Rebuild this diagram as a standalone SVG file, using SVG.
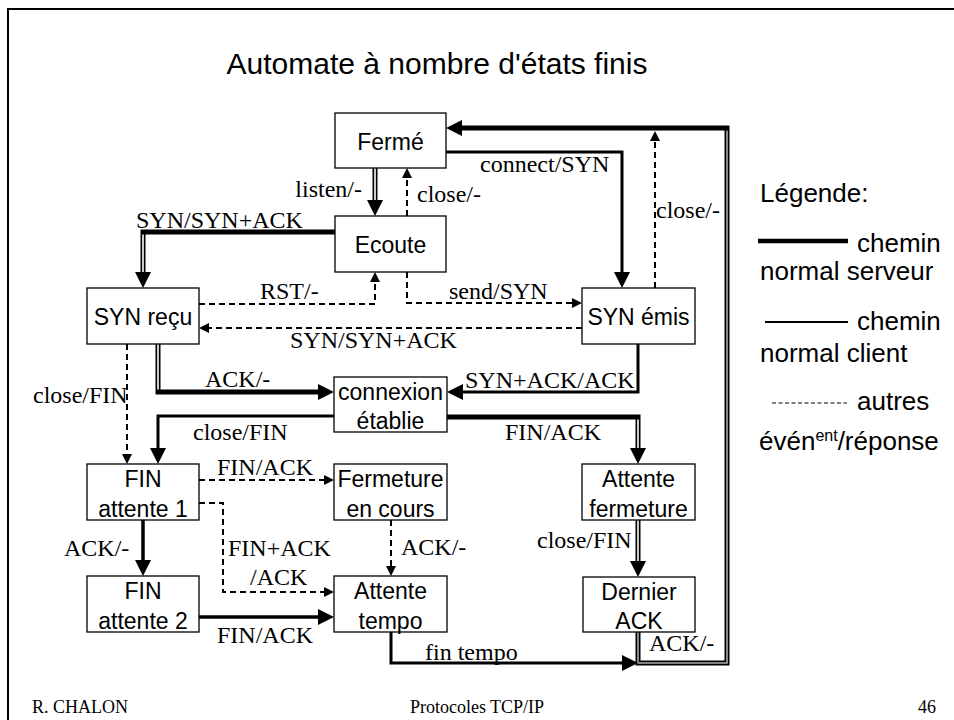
<svg xmlns="http://www.w3.org/2000/svg" width="954" height="720" viewBox="0 0 954 720">
<style>
.box{fill:#fff;stroke:#000;stroke-width:1.3}
.nt{font-family:"Liberation Sans",Arial,sans-serif;font-size:23px;fill:#000;text-anchor:middle}
.lb{font-family:"Liberation Serif","Times New Roman",serif;font-size:24px;fill:#000}
.lg{font-family:"Liberation Sans",Arial,sans-serif;font-size:26px;fill:#000}
.srv{fill:none;stroke:#000;stroke-width:5}
.in{fill:none;stroke:#fff;stroke-width:1.6}
.cli{fill:none;stroke:#000;stroke-width:3}
.dsh{fill:none;stroke:#000;stroke-width:2;stroke-dasharray:6 4}
</style>
<defs>
<marker id="big" viewBox="0 0 16 16" refX="8" refY="8" markerWidth="16" markerHeight="16" markerUnits="userSpaceOnUse" orient="auto"><path d="M0,0 L16,8 L0,16 Z" fill="#000"/></marker>
<marker id="sm" viewBox="0 0 10 10" refX="5" refY="5" markerWidth="10" markerHeight="10" markerUnits="userSpaceOnUse" orient="auto"><path d="M0,0 L10,5 L0,10 Z" fill="#000"/></marker>
</defs>
<rect x="8" y="9" width="970" height="780" fill="#fff" stroke="#000" stroke-width="2"/>
<text x="437" y="74" font-family="'Liberation Sans',Arial,sans-serif" font-size="30" text-anchor="middle">Automate à nombre d'états finis</text>

<g id="connectors">
<path class="srv" d="M375,168 V208" marker-end="url(#big)"/><path class="in" d="M375,168 V200"/>
<path class="srv" d="M335,232 H143 V280" marker-end="url(#big)"/><path class="in" d="M143,234.5 V272"/>
<path class="srv" d="M158,344 V392 H326" marker-end="url(#big)"/><path class="in" d="M158,344 V389.5"/>
<path class="srv" d="M447,417 H638 V456" marker-end="url(#big)"/><path class="in" d="M638,419.5 V448"/>
<path class="srv" d="M638,520 V569" marker-end="url(#big)"/><path class="in" d="M638,520 V561"/>
<path class="srv" d="M638,632 V663 H727 V128 H454" marker-end="url(#big)"/><path class="in" style="stroke:#aaa" d="M638,632 V663 H727 V130.5"/>
<path class="cli" d="M446,152 H622 V280" marker-end="url(#big)"/>
<path class="cli" d="M638,344 V392 H455" marker-end="url(#big)"/>
<path class="cli" d="M334,416 H158 V456" marker-end="url(#big)"/>
<path class="cli" style="stroke-width:3.5" d="M143,520 V568" marker-end="url(#big)"/>
<path class="cli" style="stroke-width:3.5" d="M199,617 H326" marker-end="url(#big)"/>
<path class="cli" d="M391,632 V663 H630" marker-end="url(#big)"/>
<path class="dsh" d="M407,216 V173" marker-end="url(#sm)"/>
<path class="dsh" d="M655,288 V136" marker-end="url(#sm)"/>
<path class="dsh" d="M199,304 H375 V277" marker-end="url(#sm)"/>
<path class="dsh" d="M407,272 V303 H577" marker-end="url(#sm)"/>
<path class="dsh" d="M582,328 H204" marker-end="url(#sm)"/>
<path class="dsh" d="M127,344 V459" marker-end="url(#sm)"/>
<path class="dsh" d="M199,480 H329" marker-end="url(#sm)"/>
<path class="dsh" d="M199,503 H223 V592 H329" marker-end="url(#sm)"/>
<path class="dsh" d="M391,520 V571" marker-end="url(#sm)"/>
</g>

<g id="labels">
<text class="lb" x="362" y="197" text-anchor="end">listen/-</text>
<text class="lb" x="417" y="202">close/-</text>
<text class="lb" x="480" y="172">connect/SYN</text>
<text class="lb" x="656" y="218">close/-</text>
<text class="lb" x="136" y="228">SYN/SYN+ACK</text>
<text class="lb" x="260" y="299">RST/-</text>
<text class="lb" x="449" y="299">send/SYN</text>
<text class="lb" x="290" y="348">SYN/SYN+ACK</text>
<text class="lb" x="205" y="387">ACK/-</text>
<text class="lb" x="33" y="403">close/FIN</text>
<text class="lb" x="193" y="440">close/FIN</text>
<text class="lb" x="465" y="388">SYN+ACK/ACK</text>
<text class="lb" x="505" y="440">FIN/ACK</text>
<text class="lb" x="217" y="475">FIN/ACK</text>
<text class="lb" x="64" y="556">ACK/-</text>
<text class="lb" x="228" y="556">FIN+ACK</text>
<text class="lb" x="250" y="585">/ACK</text>
<text class="lb" x="217" y="643">FIN/ACK</text>
<text class="lb" x="401" y="555">ACK/-</text>
<text class="lb" x="537" y="548">close/FIN</text>
<text class="lb" x="425" y="660">fin tempo</text>
<text class="lb" x="649" y="651">ACK/-</text>
</g>

<g id="ferme"><rect class="box" x="335" y="113" width="111" height="55"/><text class="nt" x="390.5" y="150">Fermé</text></g>
<g id="ecoute"><rect class="box" x="335" y="216" width="111" height="56"/><text class="nt" x="390.5" y="253">Ecoute</text></g>
<g id="synrecu"><rect class="box" x="87" y="288" width="112" height="56"/><text class="nt" x="143" y="325">SYN reçu</text></g>
<g id="synemis"><rect class="box" x="582" y="288" width="113" height="56"/><text class="nt" x="638.5" y="325">SYN émis</text></g>
<g id="connexion"><rect class="box" x="334" y="377" width="113" height="55"/><text class="nt" x="390.5" y="400">connexion</text><text class="nt" x="390.5" y="429">établie</text></g>
<g id="fin1"><rect class="box" x="87" y="464" width="112" height="56"/><text class="nt" x="143" y="487">FIN</text><text class="nt" x="143" y="517">attente 1</text></g>
<g id="fin2"><rect class="box" x="87" y="576" width="112" height="56"/><text class="nt" x="143" y="599">FIN</text><text class="nt" x="143" y="629">attente 2</text></g>
<g id="fermeture"><rect class="box" x="334" y="464" width="113" height="56"/><text class="nt" x="390.5" y="487">Fermeture</text><text class="nt" x="390.5" y="517">en cours</text></g>
<g id="tempo"><rect class="box" x="334" y="576" width="113" height="56"/><text class="nt" x="390.5" y="599">Attente</text><text class="nt" x="390.5" y="629">tempo</text></g>
<g id="attferm"><rect class="box" x="582" y="464" width="113" height="56"/><text class="nt" x="638.5" y="487">Attente</text><text class="nt" x="638.5" y="517">fermeture</text></g>
<g id="dernier"><rect class="box" x="583" y="577" width="112" height="55"/><text class="nt" x="639" y="600">Dernier</text><text class="nt" x="639" y="629">ACK</text></g>

<g id="legende">
<text class="lg" x="760" y="202">Légende:</text>
<path d="M758,241 H848" stroke="#000" stroke-width="4.5"/>
<text class="lg" x="857" y="252">chemin</text>
<text class="lg" x="760" y="280">normal serveur</text>
<path d="M765,322 H848" stroke="#000" stroke-width="2"/>
<text class="lg" x="857" y="330">chemin</text>
<text class="lg" x="760" y="362">normal client</text>
<path d="M772,403 H847" stroke="#000" stroke-width="1.2" stroke-dasharray="4 2.5"/>
<text class="lg" x="857" y="410">autres</text>
<text class="lg" x="759" y="450">évén<tspan font-size="16" dy="-9">ent</tspan><tspan dy="9">/réponse</tspan></text>
</g>

<g id="footer">
<text x="32" y="713" font-family="'Liberation Serif','Times New Roman',serif" font-size="18">R. CHALON</text>
<text x="477" y="713" font-family="'Liberation Serif','Times New Roman',serif" font-size="18" text-anchor="middle">Protocoles TCP/IP</text>
<text x="936" y="713" font-family="'Liberation Serif','Times New Roman',serif" font-size="18" text-anchor="end">46</text>
</g>
</svg>
